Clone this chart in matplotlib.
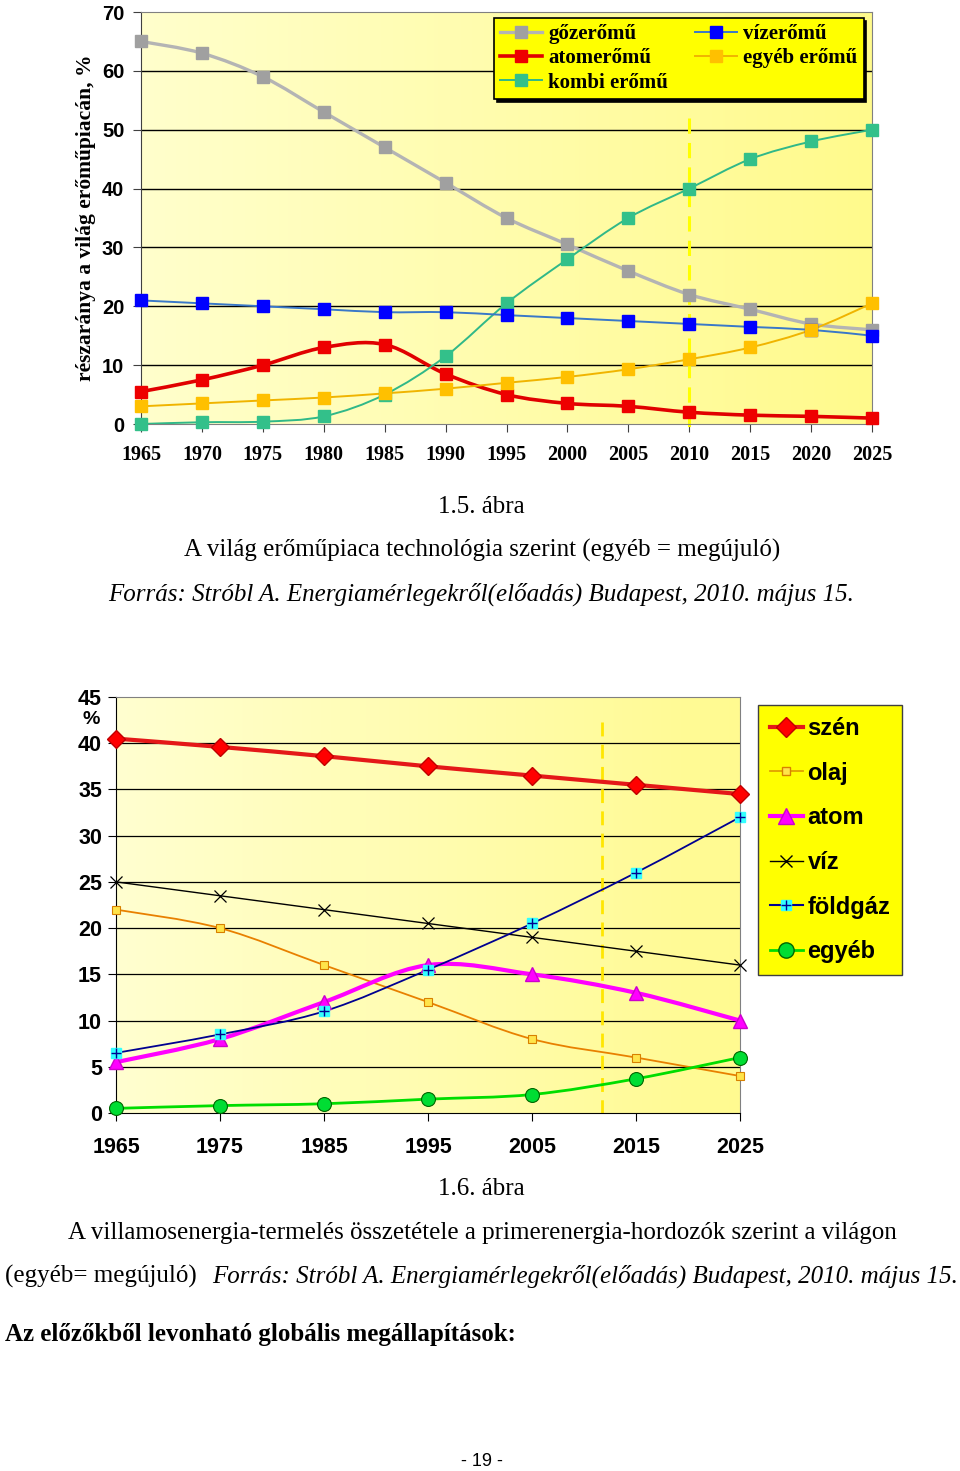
import numpy as np
import matplotlib
matplotlib.use("Agg")
import matplotlib.pyplot as plt
from matplotlib.path import Path
from matplotlib.patches import PathPatch
from matplotlib.lines import Line2D

# 1.5. abra adatai
evek1 = [1965, 1970, 1975, 1980, 1985, 1990, 1995, 2000, 2005, 2010, 2015, 2020, 2025]
gozeromu = [65, 63, 59, 53, 47, 41, 35, 30.5, 26, 22, 19.5, 17, 16]
vizeromu = [21, 20.5, 20, 19.5, 19, 19, 18.5, 18, 17.5, 17, 16.5, 16, 15]
atomeromu = [5.5, 7.5, 10, 13, 13.5, 8.5, 5, 3.5, 3, 2, 1.5, 1.3, 1]
egyeb_eromu = [3, 3.5, 4, 4.5, 5.2, 6, 7, 8, 9.3, 11, 13, 16, 20.5]
kombi_eromu = [0, 0.3, 0.4, 1.3, 5, 11.5, 20.5, 28, 35, 40, 45, 48, 50]

# 1.6. abra adatai
evek2 = [1965, 1975, 1985, 1995, 2005, 2015, 2025]
szen = [40.5, 39.6, 38.6, 37.5, 36.5, 35.5, 34.5]
olaj = [22, 20, 16, 12, 8, 6, 4]
atom = [5.5, 8, 12, 16, 15, 13, 10]
viz = [25, 23.5, 22, 20.5, 19, 17.5, 16]
foldgaz = [6.5, 8.5, 11, 15.5, 20.5, 26, 32]
egyeb = [0.5, 0.8, 1, 1.5, 2, 3.7, 6]

W, H = 960, 1471
fig = plt.figure(figsize=(W / 100, H / 100), dpi=100)
fig.patch.set_facecolor("white")

serif = "Liberation Serif"
sans = "Liberation Sans"


def fx(px):
    return px / W


def fy(py):
    return 1 - py / H


# Excel-szeru simitott vonal (Catmull-Rom -> Bezier)
def simitott(ax, x, y, color, lw):
    pts = np.column_stack([x, y]).astype(float)
    n = len(pts)
    verts = [pts[0]]
    codes = [Path.MOVETO]
    for i in range(n - 1):
        p0 = pts[i - 1] if i > 0 else pts[i]
        p1 = pts[i]
        p2 = pts[i + 1]
        p3 = pts[i + 2] if i + 2 < n else pts[i + 1]
        verts += [p1 + (p2 - p0) / 6, p2 - (p3 - p1) / 6, p2]
        codes += [Path.CURVE4] * 3
    ax.add_patch(PathPatch(Path(verts, codes), fill=False, edgecolor=color,
                           lw=lw, capstyle="round", joinstyle="round", zorder=3))


def hatter(ax, c1, c2):
    grad = np.linspace(0, 1, 256).reshape(1, -1)
    cmap = matplotlib.colors.LinearSegmentedColormap.from_list("h", [c1, c2])
    ax.imshow(grad, cmap=cmap, aspect="auto", extent=[0, 1, 0, 1],
              transform=ax.transAxes, zorder=0)


# ---------------- 1.5. abra ----------------
ax1 = fig.add_axes([fx(141), fy(424), fx(872 - 141), (424 - 12) / H])
hatter(ax1, "#ffffcc", "#fffa8c")
ax1.set_xlim(1965, 2025)
ax1.set_ylim(0, 70)
ax1.set_yticks(range(0, 71, 10))
ax1.set_xticks(evek1)
for v in range(10, 70, 10):
    ax1.axhline(v, color="black", lw=1, zorder=1)
for s in ax1.spines.values():
    s.set_color("#808080")
ax1.spines["left"].set_color("#404040")
ax1.tick_params(axis="x", direction="out", length=6, color="#404040", pad=9)
ax1.tick_params(axis="y", direction="out", length=6, color="#404040", pad=6)
for lab in ax1.get_xticklabels():
    lab.set_fontfamily(serif)
    lab.set_fontweight("bold")
    lab.set_fontsize(14.5)
for lab in ax1.get_yticklabels():
    lab.set_fontfamily(sans)
    lab.set_fontweight("bold")
    lab.set_fontsize(14.5)
ax1.set_ylabel("részaránya a világ erőműpiacán, %", fontfamily=serif,
               fontweight="bold", fontsize=15.5, labelpad=4)

ax1.plot([2010, 2010], [52, -1.2], color="#ffff00", lw=2.2, ls=(0, (5, 3)),
         zorder=2, clip_on=False)

sor1 = [
    ("gőzerőmű", gozeromu, "#b4b4b4", "#a0a0a0", 2.4),
    ("atomerőmű", atomeromu, "#e00000", "#ee0000", 2.6),
    ("kombi erőmű", kombi_eromu, "#30b888", "#33c08a", 1.4),
    ("vízerőmű", vizeromu, "#3a78c8", "#0000ff", 1.4),
    ("egyéb erőmű", egyeb_eromu, "#f0b400", "#ffc000", 1.4),
]
h1 = []
for nev, adat, lc, mc, lw in sor1:
    simitott(ax1, evek1, adat, lc, lw)
    ax1.plot(evek1, adat, ls="none", marker="s", ms=9, mfc=mc, mec=mc,
             zorder=4, clip_on=False)
    h1.append(Line2D([], [], color=lc, lw=lw, marker="s", ms=9, mfc=mc, mec=mc))

leg1 = ax1.legend(h1, [s[0] for s in sor1], ncol=2, loc="upper left",
                  bbox_to_anchor=(fx(494), fy(18)), bbox_transform=fig.transFigure,
                  prop={"family": serif, "weight": "bold", "size": 15},
                  facecolor="#ffff00", edgecolor="black", framealpha=1,
                  fancybox=False, shadow={"color": "black", "alpha": 1},
                  handlelength=2.0, handletextpad=0.3, columnspacing=1.3,
                  labelspacing=0.2, borderpad=0.3, borderaxespad=0)
leg1.get_frame().set_linewidth(1.2)
leg1.set_zorder(10)

# ---------------- 1.6. abra ----------------
ax2 = fig.add_axes([fx(116), fy(1113), fx(740 - 116), (1113 - 697) / H])
hatter(ax2, "#ffffd0", "#fffa90")
ax2.set_xlim(1965, 2025)
ax2.set_ylim(0, 45)
ax2.set_yticks(range(0, 46, 5))
ax2.set_xticks(evek2)
for v in range(5, 45, 5):
    ax2.axhline(v, color="black", lw=0.9, zorder=1)
for s in ax2.spines.values():
    s.set_color("#808080")
ax2.spines["left"].set_color("black")
ax2.spines["bottom"].set_color("black")
ax2.tick_params(axis="x", direction="out", length=6, color="black", pad=11)
ax2.tick_params(axis="y", direction="out", length=6, color="black", pad=4)
for lab in ax2.get_xticklabels() + ax2.get_yticklabels():
    lab.set_fontfamily(sans)
    lab.set_fontweight("bold")
    lab.set_fontsize(15.5)
fig.text(fx(91), fy(720), "%", fontfamily=sans, fontweight="bold", fontsize=14,
         ha="center", va="center")

ax2.plot([2011.7, 2011.7], [42.3, 0], color="#ffe600", lw=2, ls=(0, (5, 3)),
         zorder=2)

simitott(ax2, evek2, szen, "#e41818", 3.0)
simitott(ax2, evek2, olaj, "#e88000", 1.3)
simitott(ax2, evek2, atom, "#ff00ff", 3.0)
simitott(ax2, evek2, viz, "#000000", 1.0)
simitott(ax2, evek2, foldgaz, "#000090", 1.3)
simitott(ax2, evek2, egyeb, "#00dd00", 2.0)

ax2.plot(evek2, szen, ls="none", marker="D", ms=9, mfc="#ff0000", mec="#c00000",
         zorder=4, clip_on=False)
ax2.plot(evek2, olaj, ls="none", marker="s", ms=5.5, mfc="#ffe44a", mec="#d88000",
         mew=0.8, zorder=4, clip_on=False)
ax2.plot(evek2, atom, ls="none", marker="^", ms=10, mfc="#ff00ff", mec="#cc00cc",
         zorder=4, clip_on=False)
ax2.plot(evek2, viz, ls="none", marker="x", ms=8, mec="black", mew=0.9,
         zorder=4, clip_on=False)
ax2.plot(evek2, foldgaz, ls="none", marker="s", ms=6.5, mfc="#33ffff", mec="#33ffff",
         zorder=4, clip_on=False)
ax2.plot(evek2, foldgaz, ls="none", marker="+", ms=7, mec="#000090", mew=1,
         zorder=5, clip_on=False)
ax2.plot(evek2, egyeb, ls="none", marker="o", ms=10, mfc="#00dd33", mec="#006600",
         mew=0.8, zorder=4, clip_on=False)

h2 = [
    Line2D([], [], color="#e41818", lw=3, marker="D", ms=10, mfc="#ff0000", mec="#c00000"),
    Line2D([], [], color="#e0a000", lw=1.3, marker="s", ms=6, mfc="#ffe44a", mec="#d88000"),
    Line2D([], [], color="#ff00ff", lw=3, marker="^", ms=11, mfc="#ff00ff", mec="#cc00cc"),
    Line2D([], [], color="black", lw=1, marker="x", ms=8, mec="black"),
    (Line2D([], [], color="#000090", lw=1.5, marker="s", ms=7, mfc="#33ffff", mec="#33ffff"),
     Line2D([], [], ls="none", marker="+", ms=7, mec="#000090", mew=1)),
    Line2D([], [], color="#00dd00", lw=2, marker="o", ms=11, mfc="#00dd33", mec="#006600"),
]
leg2 = ax2.legend(h2, ["szén", "olaj", "atom", "víz", "földgáz", "egyéb"],
                  loc="upper left", bbox_to_anchor=(fx(758), fy(705)),
                  bbox_transform=fig.transFigure,
                  prop={"family": sans, "weight": "bold", "size": 17},
                  facecolor="#ffff00", edgecolor="#404040", framealpha=1,
                  fancybox=False, handlelength=1.4, handletextpad=0.2,
                  labelspacing=0.92, borderpad=0.5, borderaxespad=0)
leg2.set_zorder(10)

# ---------------- szovegek ----------------
tkw = dict(fontfamily=serif, fontsize=18, ha="center", va="center")
fig.text(fx(481), fy(507), "1.5. ábra", **tkw)
fig.text(fx(482), fy(550), "A világ erőműpiaca technológia szerint (egyéb = megújuló)", **tkw)
fig.text(fx(481), fy(594), "Forrás: Stróbl A. Energiamérlegekről(előadás) Budapest, 2010. május 15.",
         style="italic", **tkw)
fig.text(fx(481), fy(1189), "1.6. ábra", **tkw)
fig.text(fx(482), fy(1233),
         "A villamosenergia-termelés összetétele a primerenergia-hordozók szerint a világon", **tkw)
fig.text(fx(5), fy(1276), "(egyéb= megújuló)", fontfamily=serif, fontsize=18,
         ha="left", va="center")
fig.text(fx(958), fy(1276),
         "Forrás: Stróbl A. Energiamérlegekről(előadás) Budapest, 2010. május 15.",
         fontfamily=serif, fontsize=18, style="italic", ha="right", va="center")
fig.text(fx(5), fy(1334), "Az előzőkből levonható globális megállapítások:",
         fontfamily=serif, fontsize=18, fontweight="bold", ha="left", va="center")
fig.text(fx(482), fy(1461), "- 19 -", fontfamily=sans, fontsize=13,
         ha="center", va="center")

fig.savefig("out.png", dpi=100)
